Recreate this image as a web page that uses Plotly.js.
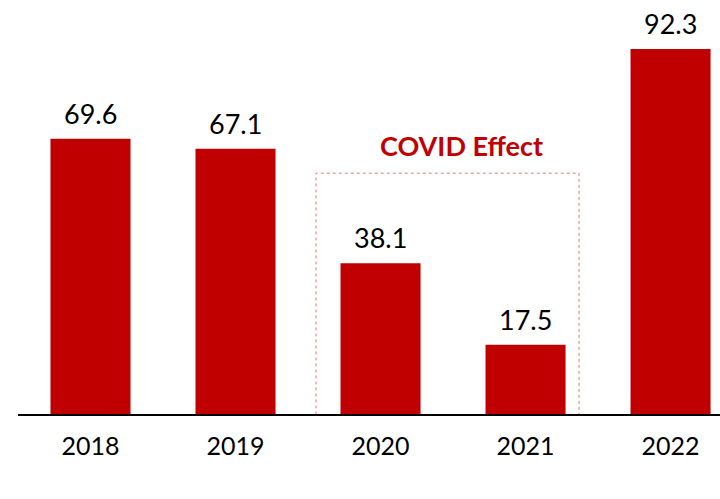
<!DOCTYPE html>
<html>
<head>
<meta charset="utf-8">
<script src="https://cdn.plot.ly/plotly-3.0.1.min.js"></script>
<style>html,body{margin:0;padding:0;background:#fff}#chart{width:720px;height:499px}</style>
</head>
<body>
<div id="chart"></div>
<script>
const years = ['2018', '2019', '2020', '2021', '2022'];
const values = [69.6, 67.1, 38.1, 17.5, 92.3];
const labels = ['69.6', '67.1', '38.1', '17.5', '92.3'];
const calloutText = 'COVID Effect';

const FONT = 'Lato, "Open Sans", sans-serif';
const RED = '#c00000';

const trace = {
  type: 'bar',
  x: years,
  y: values,
  marker: {color: RED},
  hoverinfo: 'none',
  cliponaxis: false
};

const annotations = years.map((yr, i) => ({
  x: i, y: values[i], xref: 'x', yref: 'y',
  text: labels[i], showarrow: false,
  xanchor: 'center', yanchor: 'bottom', yshift: 7,
  font: {family: FONT, size: 27, color: '#000'}
}));
annotations.push({
  x: 2.555, y: 67.8, xref: 'x', yref: 'y',
  text: '<b>' + calloutText + '</b>', showarrow: false,
  xanchor: 'center', yanchor: 'middle',
  font: {family: FONT, size: 27, color: RED}
});

const layout = {
  width: 720, height: 499,
  margin: {l: 18, r: 0, t: 0, b: 85},
  paper_bgcolor: '#fff', plot_bgcolor: '#fff',
  showlegend: false,
  bargap: 0.448,
  xaxis: {
    type: 'category',
    range: [-0.5, 4.341],
    showgrid: false, zeroline: false,
    showline: true, linecolor: '#000', linewidth: 1.5,
    ticks: '', ticklabelstandoff: 9,
    tickfont: {family: FONT, size: 25, color: '#000'}
  },
  yaxis: {
    range: [0, 104.7],
    visible: false, showgrid: false, zeroline: false
  },
  shapes: [{
    type: 'rect', xref: 'x', yref: 'y',
    x0: 1.555, x1: 3.369, y0: -25, y1: 60.9,
    line: {color: '#e87878', width: 1, dash: 'dot'},
    fillcolor: 'rgba(0,0,0,0)', layer: 'below'
  }],
  annotations: annotations
};

Plotly.newPlot('chart', [trace], layout, {staticPlot: true, displayModeBar: false});
</script>
</body>
</html>
